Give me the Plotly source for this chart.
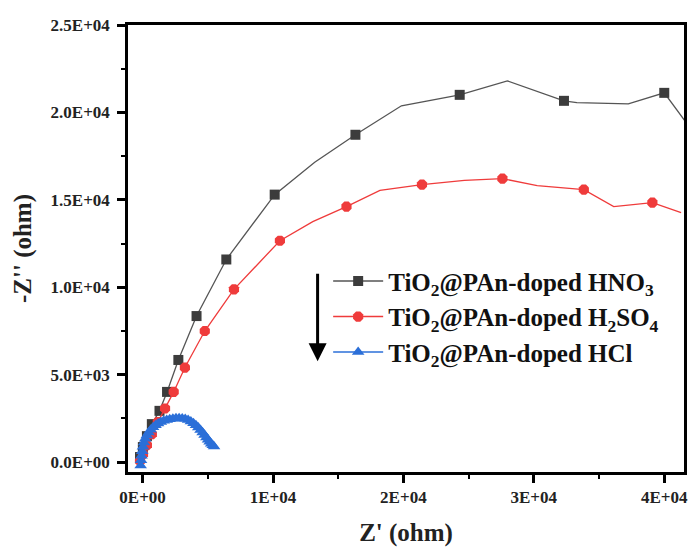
import plotly.graph_objects as go

# ---- data (Z' , -Z'') in ohm ----
hno3_x = [-200, 20, 330, 708, 1295, 1874, 2742, 4136, 6420, 10130, 13200, 16321,
          19850, 24318, 27974, 32315, 33300, 37250, 40007, 41150, 41700]
hno3_y = [285, 856, 1480, 2169, 2928, 4012, 5839, 8350, 11587, 15297, 17150, 18721,
          20377, 21005, 21804, 20662, 20560, 20490, 21119, 19977, 19400]
hno3_mk = [0, 1, 2, 3, 4, 5, 6, 7, 8, 9, 11, 13, 15, 18]

h2so4_x = [-200, 30, 330, 708, 1165, 1721, 2384, 3244, 4768, 7007, 10530, 13050,
           15636, 18200, 21424, 24680, 27594, 30260, 33839, 36130, 37340, 39094, 41300]
h2so4_y = [57, 457, 970, 1600, 2283, 3065, 4012, 5405, 7494, 9874, 12660, 13750,
           14612, 15540, 15868, 16110, 16210, 15810, 15582, 14612, 14720, 14840, 14270]
h2so4_mk = [0, 1, 2, 3, 4, 5, 6, 7, 8, 9, 10, 12, 14, 16, 18, 21]

hcl_x = [-150, -120, -80, -30, 30, 110, 200, 320, 460, 620, 800, 990, 1190, 1400,
         1620, 1850, 2080, 2320, 2560, 2800, 3040, 3270, 3490, 3700, 3900, 4090,
         4270, 4440, 4600, 4750, 4890, 5020, 5140, 5260, 5380, 5480]
hcl_y = [-200, 100, 360, 620, 880, 1120, 1330, 1520, 1690, 1850, 1990, 2110, 2210,
         2290, 2360, 2410, 2450, 2480, 2500, 2500, 2490, 2460, 2400, 2320, 2220,
         2100, 1970, 1830, 1690, 1550, 1410, 1280, 1160, 1050, 960, 890]

names = ["<b>TiO<sub>2</sub>@PAn-doped HNO<sub>3</sub></b>",
         "<b>TiO<sub>2</sub>@PAn-doped H<sub>2</sub>SO<sub>4</sub></b>",
         "<b>TiO<sub>2</sub>@PAn-doped HCl</b>"]

x_tickvals = [0, 10000, 20000, 30000, 40000]
x_ticktext = ["0E+00", "1E+04", "2E+04", "3E+04", "4E+04"]
y_tickvals = [0, 5000, 10000, 15000, 20000, 25000]
y_ticktext = ["0.0E+00", "5.0E+03", "1.0E+04", "1.5E+04", "2.0E+04", "2.5E+04"]

# ---- styles ----
c_black_line, c_black = "#555555", "#3c3c3c"
c_red = "#ef3b3b"
c_blue = "#2b6fd8"
FONT = "Liberation Serif"

fig = go.Figure()

def add_series(xs, ys, mk, lc, mc, symbol, size, name):
    fig.add_trace(go.Scatter(x=xs, y=ys, mode="lines", line=dict(color=lc, width=1.3),
                             showlegend=False, hoverinfo="skip"))
    if mk is None:
        mx, my = xs, ys
    else:
        mx = [xs[i] for i in mk]
        my = [ys[i] for i in mk]
    fig.add_trace(go.Scatter(x=mx, y=my, mode="markers",
                             marker=dict(symbol=symbol, size=size, color=mc,
                                         line=dict(width=0)),
                             showlegend=False))
    fig.add_trace(go.Scatter(x=[None], y=[None], mode="lines+markers", name=name,
                             line=dict(color=lc, width=1.5),
                             marker=dict(symbol=symbol, size=size, color=mc)))

add_series(hno3_x, hno3_y, hno3_mk, c_black_line, c_black, "square", 10, names[0])
add_series(h2so4_x, h2so4_y, h2so4_mk, c_red, c_red, "octagon", 11, names[1])
add_series(hcl_x, hcl_y, None, c_blue, c_blue, "triangle-up", 11, names[2])

axis_common = dict(showline=True, linewidth=2.5, linecolor="black", mirror=True,
                   ticks="outside", ticklen=8, tickwidth=2.5, tickcolor="black",
                   showgrid=False, zeroline=False,
                   tickfont=dict(family=FONT, size=17, color="#222", weight="bold"))

fig.update_xaxes(range=[-1120, 41520], tickvals=x_tickvals, ticktext=x_ticktext,
                 minor=dict(ticks="outside", ticklen=4, tickwidth=2, tickcolor="black",
                            dtick=5000, tick0=0),
                 title=dict(text="<b>Z' (ohm)</b>", font=dict(family=FONT, size=25, color="#222"),
                            standoff=18),
                 **axis_common)
fig.update_yaxes(range=[-570, 25000], tickvals=y_tickvals, ticktext=y_ticktext,
                 minor=dict(ticks="outside", ticklen=4, tickwidth=2, tickcolor="black",
                            dtick=2500, tick0=0),
                 title=dict(text="<b>-Z'' (ohm)</b>", font=dict(family=FONT, size=25, color="#222"),
                            standoff=12),
                 ticklabelstandoff=4,
                 **axis_common)

fig.add_annotation(xref="paper", yref="paper", x=0.341, y=0.248, ax=0, ay=-89,
                   axref="pixel", ayref="pixel", text="", showarrow=True,
                   arrowhead=2, arrowsize=1.2, arrowwidth=3, arrowcolor="black", standoff=0)

fig.update_layout(
    width=697, height=552,
    margin=dict(l=128, r=9, t=25, b=79),
    plot_bgcolor="white", paper_bgcolor="white",
    legend=dict(x=0.36, y=0.478, xanchor="left", yanchor="top",
                bgcolor="rgba(0,0,0,0)", borderwidth=0,
                font=dict(family=FONT, size=25, color="#111"),
                tracegroupgap=0, itemwidth=50),
)

fig.write_html("out.html")
